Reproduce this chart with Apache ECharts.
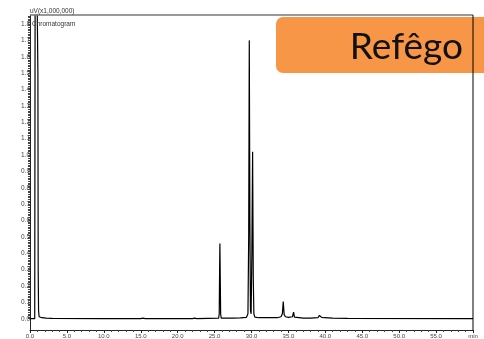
<!DOCTYPE html>
<html><head><meta charset="utf-8">
<script src="https://cdn.jsdelivr.net/npm/echarts@6/dist/echarts.min.js"></script>
<style>html,body{margin:0;padding:0;background:#fff}#c{width:484px;height:339px}</style>
</head><body><div id="c"></div>
<script>
// Retention time (min)
const times = [0, 0.64, 0.68, 0.72, 0.85, 0.95, 1.03, 1.07, 1.11, 1.16, 1.24, 1.6, 2.2, 3.0, 10.0, 15.0, 15.3, 15.6, 20.0, 22.0, 22.3, 22.6,
  25.55, 25.63, 25.68, 25.72, 25.77, 25.82, 25.9, 27.5, 28.5, 29.3, 29.52, 29.62, 29.7, 29.78, 29.86, 29.95, 30.05, 30.15, 30.24, 30.32, 30.45, 31.0,
  33.5, 34.0, 34.18, 34.3, 34.42, 34.6, 35.0, 35.55, 35.7, 35.82, 36.0, 37.0, 38.0, 39.0, 39.2, 39.35, 39.5, 39.7, 39.85, 40.1, 41.0, 43.0, 60.0];
// Intensity (uV x1,000,000)
const intensity = [0.0, 0.0, 1.5, 3.0, 3.0, 3.0, 3.0, 1.5, 0.3, 0.05, 0.012, 0.006, 0.003, 0.002, 0.001, 0.001, 0.004, 0.001, 0.001, 0.001, 0.003, 0.001,
  0.003, 0.03, 0.3, 0.46, 0.25, 0.03, 0.004, 0.003, 0.005, 0.008, 0.03, 0.5, 1.70, 0.6, 0.05, 0.03, 0.4, 1.02, 0.25, 0.03, 0.01, 0.006,
  0.006, 0.012, 0.03, 0.105, 0.025, 0.012, 0.008, 0.012, 0.04, 0.01, 0.005, 0.004, 0.004, 0.006, 0.02, 0.01, 0.008, 0.016, 0.006, 0.004, 0.003, 0.002, 0.001];
const yTickLabels = ['0.0','0.1','0.2','0.3','0.4','0.5','0.6','0.7','0.8','0.9','1.0','1.1','1.2','1.3','1.4','1.5','1.6','1.7','1.8'];
const xTickLabels = ['0.0','5.0','10.0','15.0','20.0','25.0','30.0','35.0','40.0','45.0','50.0','55.0','min'];
const yAxisTitle = 'uV(x1,000,000)';
const plotTitle = 'Chromatogram';
const sampleName = 'Refêgo';

const data = times.map((t, i) => [t, intensity[i]]);
const yLabelVals = yTickLabels.map(s => parseFloat(s));
const yTickVals = [];
for (let i = 0; i <= 185; i++) yTickVals.push(+(i * 0.01).toFixed(2));

const chart = echarts.init(document.getElementById('c'), null, {renderer: 'canvas'});
chart.setOption({
  animation: false,
  grid: {left: 30, right: 11, top: 15, bottom: 9},
  xAxis: {
    type: 'value', min: 0, max: 60, interval: 5,
    axisLine: {show: true, onZero: false, lineStyle: {color: '#222', width: 1}},
    axisTick: {show: true, length: 3, lineStyle: {color: '#222'}},
    minorTick: {show: true, splitNumber: 5, length: 2, lineStyle: {color: '#444'}},
    splitLine: {show: false},
    axisLabel: {fontSize: 6, color: '#444', margin: 3, fontFamily: 'Liberation Sans',
      formatter: v => xTickLabels[Math.round(v / 5)] || ''}
  },
  yAxis: {
    type: 'value', min: -0.069, max: 1.855,
    axisLine: {show: true, lineStyle: {color: '#222', width: 1}},
    axisTick: {show: true, length: 2, customValues: yTickVals, lineStyle: {color: '#444'}},
    splitLine: {show: false},
    axisLabel: {fontSize: 6.5, color: '#444', margin: 0, fontFamily: 'Liberation Sans',
      customValues: yLabelVals, formatter: v => yTickLabels[Math.round(v * 10)]}
  },
  series: [{
    type: 'line', data: data, showSymbol: false, clip: true,
    lineStyle: {color: '#000', width: 1.2}, z: 3
  }],
  graphic: [
    {type: 'line', shape: {x1: 30, y1: 15, x2: 473, y2: 15}, style: {stroke: '#777', lineWidth: 1.5}, z: 5},
    {type: 'text', left: 30, top: 8, style: {text: yAxisTitle, fontSize: 6.5, fill: '#333', fontFamily: 'Liberation Sans'}, z: 6},
    {type: 'text', left: 32, top: 21, style: {text: plotTitle, fontSize: 6.5, fill: '#333', fontFamily: 'Liberation Sans'}, z: 6},
    {type: 'rect', shape: {x: 276, y: 17, width: 230, height: 56, r: 7}, style: {fill: '#F79646'}, z: 10},
    {type: 'text', style: {text: sampleName, x: 463, y: 47, align: 'right', verticalAlign: 'middle',
      fontSize: 37, fontFamily: 'Lato', fill: '#111'}, z: 11},
    {type: 'line', shape: {x1: 473, y1: 15, x2: 473, y2: 330}, style: {stroke: '#000', lineWidth: 1}, z: 12}
  ]
});
</script></body></html>
